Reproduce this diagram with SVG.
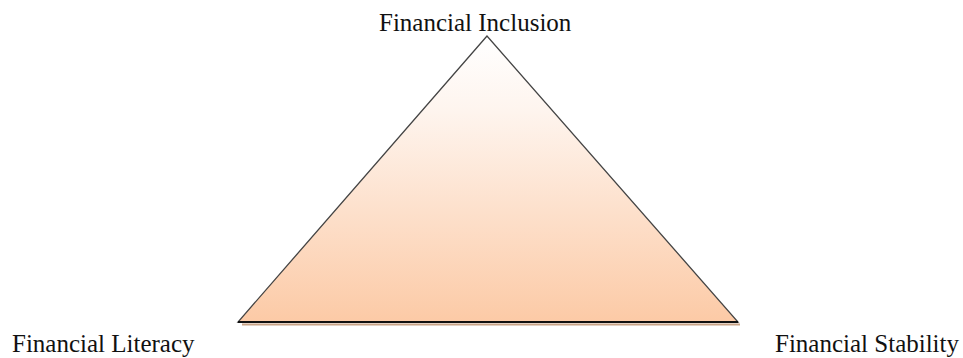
<svg xmlns="http://www.w3.org/2000/svg" width="963" height="358" viewBox="0 0 963 358">
  <defs>
    <linearGradient id="peach" x1="0" y1="0" x2="0" y2="1">
      <stop offset="0" stop-color="#ffffff"/>
      <stop offset="0.25" stop-color="#fef5ef"/>
      <stop offset="1" stop-color="#fccaa6"/>
    </linearGradient>
    <style>
      .label { font-family: "Liberation Serif", "Times New Roman", serif; font-size: 25px; fill: #111; }
    </style>
  </defs>
  <rect width="963" height="358" fill="#ffffff"/>

  <g id="triangle">
    <!-- soft drop shadow beneath the base -->
    <line x1="242" y1="324.5" x2="740" y2="324.5" stroke="#c9a488" stroke-width="2"/>
    <polygon points="487,36 238,322 738,322" fill="url(#peach)" stroke="#444" stroke-width="1.3" stroke-linejoin="miter"/>
    <line x1="238" y1="322" x2="738" y2="322" stroke="#111" stroke-width="2"/>
  </g>

  <g id="connectors"></g>

  <g id="node-inclusion">
    <text class="label" x="379" y="31">Financial Inclusion</text>
  </g>
  <g id="node-literacy">
    <text class="label" x="12" y="352">Financial Literacy</text>
  </g>
  <g id="node-stability">
    <text class="label" x="775" y="352">Financial Stability</text>
  </g>
</svg>
